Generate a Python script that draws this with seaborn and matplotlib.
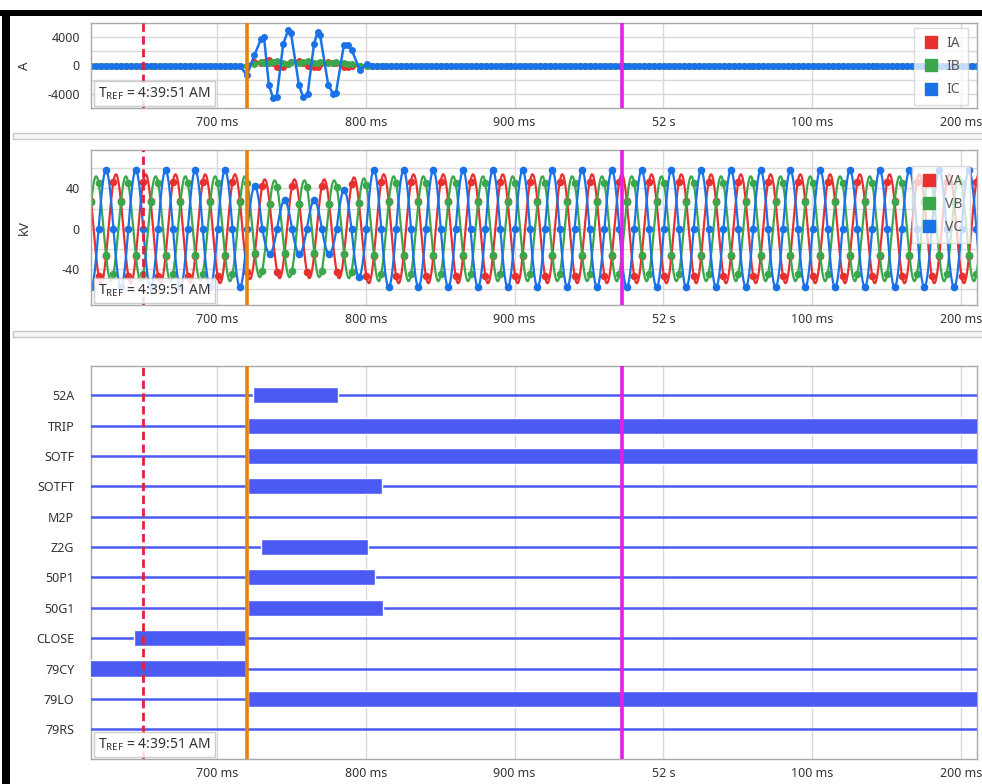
import numpy as np
import pandas as pd
import seaborn as sns
from matplotlib import pyplot as plt
from matplotlib.lines import Line2D
from matplotlib.patches import Rectangle
from matplotlib.ticker import FixedLocator, FixedFormatter

# time axis is in ms after 51 s
X_MIN_MS, X_MAX_MS = 615.3, 1210.8
TICK_MS = [700, 800, 900, 1000, 1100, 1200]
TICK_LABELS = ["700 ms", "800 ms", "900 ms", "52 s", "100 ms", "200 ms"]

TRIGGER_MS = 650.3
CURSOR_A_MS = 720.2
CURSOR_B_MS = 972.2
TREF_TEXT = r"T$_{\mathrm{REF}}$ = 4:39:51 AM"

# currents (A), samples around the fault
CUR_STEP_MS = 10 / 3
IC_FAULT_MS = [720.0, 725.1, 729.6, 731.6, 734.9, 737.8, 740.1, 744.5, 747.9, 749.7, 755.1, 758.0,
               760.9, 765.2, 767.7, 769.2, 774.8, 778.0, 780.0, 785.3, 787.8, 790.5, 796.1, 800.6]
IC_FAULT_A = [-1350, 1400, 3700, 3900, -2750, -4580, -4440, 3000, 4940, 4520, -2750, -4440,
              -3990, 3000, 4700, 4290, -2750, -3900, -3750, 2900, 2900, 2180, -680, 250]
IA_FAULT_A = [0, 550, 400, 500, 700, 300, -150, -200, 250, 450, 690, 400,
              -100, -250, -150, 150, 550, 400, 300, -150, -250, -100, 0, 0]
IB_FAULT_A = [0, 200, 450, 400, 300, 500, 650, 350, 200, 450, 350, 550,
              650, 400, 300, 450, 350, 400, 450, 300, 200, 150, 0, 0]

# voltages (kV), 50 Hz
VA_PEAK_MS, VB_PEAK_MS, VC_PEAK_MS = 632.07, 638.73, 625.4
VA_KV, VB_KV, VC_KV = 54, 52, 58
VA_FAULT_PEAK_MS = [722.07, 732.07, 742.07, 752.07, 762.07, 772.07, 782.07, 792.07]
VA_FAULT_KV = [50, 49, 49, 49, 49, 49, 49, 51]
VB_FAULT_PEAK_MS = [728.73, 738.73, 748.73, 758.73, 768.73, 778.73, 788.73, 798.73]
VB_FAULT_KV = [48, 48, 48, 48, 48, 48, 49, 50]
VC_FAULT_PEAK_MS = [725.4, 735.4, 745.4, 755.4, 765.4, 775.4, 785.4, 795.4]
VC_FAULT_KV = [42, 25, 28, 25, 28, 25, 38, 48]

# digital channels, on intervals (ms)
CHANNELS = ["52A", "TRIP", "SOTF", "SOTFT", "M2P", "Z2G", "50P1", "50G1",
            "CLOSE", "79CY", "79LO", "79RS"]
ON_START_MS = [724.4, 721.0, 721.0, 721.0, None, 729.6, 721.0, 721.0, 644.2, 610.0, 721.0, None]
ON_END_MS = [781.5, 1215.0, 1215.0, 811.1, None, 801.7, 806.2, 811.3, 719.3, 719.3, 1215.0, None]

RED, GREEN, BLUE = "#e8302f", "#3aa84a", "#1a72e8"
DIG_BLUE = "#4a5af2"
TXT = "#333333"


def phase_wave(t, peak_ms, amp, fault_peaks, fault_kv):
    half = np.round((t - peak_ms) / 10.0).astype(int)
    amp_t = np.full(t.shape, float(amp))
    for pk, kv in zip(fault_peaks, fault_kv):
        amp_t[half == int(round((pk - peak_ms) / 10.0))] = kv
    return amp_t * np.cos(2 * np.pi * (t - peak_ms) / 20.0)


def style_time_axis(ax):
    ax.set_xlim(X_MIN_MS, X_MAX_MS)
    ax.xaxis.set_major_locator(FixedLocator(TICK_MS))
    ax.xaxis.set_major_formatter(FixedFormatter(TICK_LABELS))
    ax.tick_params(axis="x", length=0, pad=6, labelsize=9, labelcolor=TXT)
    ax.tick_params(axis="y", length=0, pad=8, labelsize=9, labelcolor=TXT)
    ax.grid(True, which="both", color="#d9d9d9", linewidth=1)
    ax.set_axisbelow(True)
    for sp in ax.spines.values():
        sp.set_color("#a8a8a8")
        sp.set_linewidth(1)
    ax.set_xlabel("")
    ax.axvline(TRIGGER_MS, color="#e3203a", lw=2, dashes=(3, 1.6), zorder=6)
    ax.axvline(CURSOR_A_MS, color="#e8820c", lw=2.6, zorder=6)
    ax.axvline(CURSOR_B_MS, color="#e61ee6", lw=2.6, zorder=6)
    ax.annotate(TREF_TEXT, xy=(0, 0), xycoords="axes fraction", xytext=(7, 6),
                textcoords="offset pixels", ha="left", va="bottom", fontsize=10,
                color=TXT, zorder=8,
                bbox=dict(boxstyle="square,pad=0.3", fc="white", ec="#c4c4c4", alpha=0.85))


def add_legend(ax, labels, anchor):
    handles = [Line2D([], [], marker="s", linestyle="none", markersize=8.5, color=c)
               for c in (RED, GREEN, BLUE)]
    leg = ax.legend(handles, labels, loc="upper right", bbox_to_anchor=anchor,
                    borderaxespad=0, frameon=True, fancybox=False, framealpha=0.75,
                    edgecolor="#d0d0d0", fontsize=10, handletextpad=0.5, labelspacing=0.6,
                    borderpad=0.55, handlelength=1.3)
    for txt in leg.get_texts():
        txt.set_color("#555555")
    leg.set_zorder(7)


sns.set_theme(style="white")
plt.rcParams["font.family"] = ["Noto Sans", "DejaVu Sans"]
plt.rcParams["mathtext.fontset"] = "custom"
plt.rcParams["mathtext.rm"] = "Noto Sans"
plt.rcParams["axes.unicode_minus"] = False

W, H = 982, 784
fig = plt.figure(figsize=(W / 100, H / 100), dpi=100)
fig.patch.set_facecolor("white")


def fig_rect(x0, y0, x1, y1):
    return [x0 / W, 1 - y1 / H, (x1 - x0) / W, (y1 - y0) / H]


# frame pieces around the panels
for x0, y0, x1, y1, fc, ec in [(0, 10, W, 16, "black", "none"), (2, 10, 10, H, "black", "none"),
                               (13, 133, W + 2, 139, "#f6f6f6", "#c8c8c8"),
                               (13, 331, W + 2, 337, "#f6f6f6", "#c8c8c8")]:
    fig.patches.append(Rectangle((x0 / W, 1 - y1 / H), (x1 - x0) / W, (y1 - y0) / H,
                                 transform=fig.transFigure, facecolor=fc, edgecolor=ec, lw=1))

# ---- currents
ax1 = fig.add_axes(fig_rect(91, 23, 977, 108))
pre_ms = np.arange(X_MIN_MS, 718.0, CUR_STEP_MS)
post_ms = np.arange(803.9, X_MAX_MS + 3, CUR_STEP_MS)
cur_ms = np.concatenate([pre_ms, IC_FAULT_MS, post_ms])
zeros_pre, zeros_post = np.zeros(len(pre_ms)), np.zeros(len(post_ms))
cur = pd.DataFrame({
    "ms": np.tile(cur_ms, 3),
    "A": np.concatenate([zeros_pre, IA_FAULT_A, zeros_post,
                         zeros_pre, IB_FAULT_A, zeros_post,
                         zeros_pre, IC_FAULT_A, zeros_post]),
    "phase": np.repeat(["IA", "IB", "IC"], len(cur_ms)),
})
sns.lineplot(data=cur, x="ms", y="A", hue="phase", palette=[RED, GREEN, BLUE],
             estimator=None, sort=False, marker="o", markersize=5, markeredgewidth=0,
             linewidth=1.8, legend=False, ax=ax1)
ax1.set_ylim(-5900, 5900)
ax1.yaxis.set_major_locator(FixedLocator([-4000, 0, 4000]))
ax1.yaxis.set_minor_locator(FixedLocator([-2000, 2000]))
ax1.set_ylabel("A", fontsize=9.5, color=TXT)
ax1.yaxis.set_label_coords(-0.068, 0.5)
style_time_axis(ax1)
add_legend(ax1, ["IA", "IB", "IC"], (0.9898, 0.94))

# ---- voltages
ax2 = fig.add_axes(fig_rect(91, 150, 977, 305))
t = np.arange(610.4, 1215.0, 0.5)
volt = pd.DataFrame({
    "ms": np.tile(t, 3),
    "kV": np.concatenate([
        phase_wave(t, VA_PEAK_MS, VA_KV, VA_FAULT_PEAK_MS, VA_FAULT_KV),
        phase_wave(t, VB_PEAK_MS, VB_KV, VB_FAULT_PEAK_MS, VB_FAULT_KV),
        phase_wave(t, VC_PEAK_MS, VC_KV, VC_FAULT_PEAK_MS, VC_FAULT_KV)]),
    "phase": np.repeat(["VA", "VB", "VC"], len(t)),
})
sns.lineplot(data=volt, x="ms", y="kV", hue="phase", palette=[RED, GREEN, BLUE],
             estimator=None, sort=False, marker="o", markevery=10, markersize=5.5,
             markeredgewidth=0, linewidth=1.6, legend=False, ax=ax2)
ax2.set_ylim(-75.5, 78)
ax2.yaxis.set_major_locator(FixedLocator([-40, 0, 40]))
ax2.yaxis.set_minor_locator(FixedLocator([-60, -20, 20, 60]))
ax2.set_ylabel("kV", fontsize=9.5, color=TXT)
ax2.yaxis.set_label_coords(-0.068, 0.5)
style_time_axis(ax2)
add_legend(ax2, ["VA", "VB", "VC"], (0.992, 0.897))

# ---- digital channels
ax3 = fig.add_axes(fig_rect(91, 366, 977, 759))
ypos = np.arange(len(CHANNELS))
ax3.hlines(ypos, X_MIN_MS - 10, X_MAX_MS + 10, color=DIG_BLUE, lw=1.8, zorder=3)
for y, s, e in zip(ypos, ON_START_MS, ON_END_MS):
    if s is not None:
        ax3.barh(y, e - s, left=s, height=0.53, color=DIG_BLUE, zorder=4)
ax3.set_ylim(11.98, -0.965)
ax3.yaxis.set_major_locator(FixedLocator(ypos))
ax3.yaxis.set_major_formatter(FixedFormatter(CHANNELS))
style_time_axis(ax3)
ax3.tick_params(axis="y", pad=12)
ax3.grid(False, axis="y")

fig.savefig("out.png", dpi=100, facecolor="white")
